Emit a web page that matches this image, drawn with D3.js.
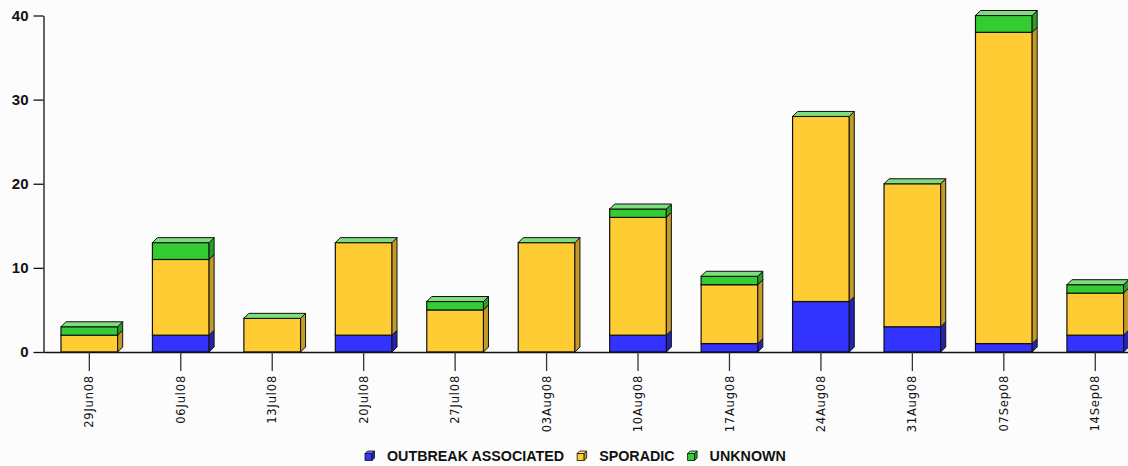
<!DOCTYPE html>
<html>
<head>
<meta charset="utf-8">
<script src="https://cdn.jsdelivr.net/npm/d3@7"></script>
<style>
  html, body { margin: 0; padding: 0; background: #fcfcfc; }
  svg { display: block; }
</style>
</head>
<body>
<svg id="chart" width="1128" height="466"></svg>
<script>
// Weekly case counts by type
const weeks = ["29Jun08", "06Jul08", "13Jul08", "20Jul08", "27Jul08", "03Aug08",
               "10Aug08", "17Aug08", "24Aug08", "31Aug08", "07Sep08", "14Sep08"];
const outbreak = [0, 2, 0, 2, 0, 0, 2, 1, 6, 3, 1, 2];
const sporadic = [2, 9, 4, 11, 5, 13, 14, 7, 22, 17, 37, 5];
const unknown  = [1, 2, 0, 0, 1, 0, 1, 1, 0, 0, 2, 1];
const seriesNames = ["OUTBREAK ASSOCIATED", "SPORADIC", "UNKNOWN"];
const yTicks = [0, 10, 20, 30, 40];

const front = ["#3333ff", "#ffcc33", "#33cc33"];
const side  = ["#2424b4", "#c49a26", "#24a024"];
const topFace = "#7ddc7d";
const legendTop = ["#6a6aff", "#ffe07a", "#7ddc7d"];

const svg = d3.select("#chart");
const W = 1128, H = 466;
const depth = 5;

const x = d3.scaleBand().domain(weeks).range([43.6, 1141]).paddingInner(0.38).paddingOuter(0.19);
const y = d3.scaleLinear().domain([0, 40]).range([352, 15.5]);

// stacked layers
const rows = weeks.map((w, i) => ({ week: w, o: outbreak[i], s: sporadic[i], u: unknown[i] }));
const stack = d3.stack().keys(["o", "s", "u"])(rows);

const bars = svg.append("g");
weeks.forEach((w, i) => {
  const g = bars.append("g");
  const x0 = x(w), bw = x.bandwidth(), x1 = x0 + bw;
  stack.forEach((layer, k) => {
    const [a, b] = layer[i];
    if (b - a <= 0) return;
    const yt = y(b), yb = y(a);
    // front face
    g.append("rect")
      .attr("x", x0).attr("y", yt).attr("width", bw).attr("height", yb - yt)
      .attr("fill", front[k]).attr("stroke", "#111").attr("stroke-width", 1.2);
    // right side face
    g.append("path")
      .attr("d", `M${x1},${yb}L${x1 + depth},${yb - depth}L${x1 + depth},${yt - depth}L${x1},${yt}Z`)
      .attr("fill", side[k]).attr("stroke", "#111").attr("stroke-width", 1);
  });
  const total = outbreak[i] + sporadic[i] + unknown[i];
  const yt = y(total);
  g.append("path")
    .attr("d", `M${x0},${yt}L${x0 + depth},${yt - depth}L${x1 + depth},${yt - depth}L${x1},${yt}Z`)
    .attr("fill", topFace).attr("stroke", "#111").attr("stroke-width", 1);
});

// Y axis
const yAxis = svg.append("g").attr("transform", "translate(43.5,0)")
  .call(d3.axisLeft(y).tickValues(yTicks).tickSize(10).tickSizeOuter(0).tickPadding(5));
yAxis.select(".domain").attr("stroke", "#111").attr("stroke-width", 1.3);
yAxis.selectAll(".tick line").attr("stroke", "#111").attr("stroke-width", 1.3);
yAxis.selectAll(".tick text")
  .attr("fill", "#111")
  .style("font-family", "'Liberation Sans', Arial, sans-serif")
  .style("font-weight", "bold").style("font-size", "15px");

// X axis
const xAxis = svg.append("g").attr("transform", "translate(0,352)")
  .call(d3.axisBottom(x).tickSize(19).tickSizeOuter(0).tickPadding(4));
xAxis.select(".domain").attr("d", `M43.5,0.5H${W}`).attr("stroke", "#111").attr("stroke-width", 1.3);
xAxis.selectAll(".tick line").attr("stroke", "#333").attr("stroke-width", 1.3);
xAxis.selectAll(".tick text")
  .attr("fill", "#111")
  .attr("transform", "rotate(-90)")
  .attr("x", -23).attr("y", 0).attr("dy", "0.35em")
  .attr("text-anchor", "end")
  .style("font-family", "'DejaVu Sans', sans-serif")
  .style("font-size", "11.5px")
  .style("letter-spacing", "0.8px");

// Legend
const legend = svg.append("g").attr("transform", "translate(365,456)");
let lx = 0;
seriesNames.forEach((name, k) => {
  const g = legend.append("g").attr("transform", `translate(${lx},0)`);
  const s = 7, d = 2.5;
  g.append("rect").attr("x", 0).attr("y", -s / 2 + 1).attr("width", s).attr("height", s)
    .attr("fill", front[k]).attr("stroke", "#111").attr("stroke-width", 0.8);
  g.append("path")
    .attr("d", `M0,${-s / 2 + 1}L${d},${-s / 2 + 1 - d}L${s + d},${-s / 2 + 1 - d}L${s},${-s / 2 + 1}Z`)
    .attr("fill", legendTop[k]).attr("stroke", "#111").attr("stroke-width", 0.8);
  g.append("path")
    .attr("d", `M${s},${-s / 2 + 1}L${s + d},${-s / 2 + 1 - d}L${s + d},${s / 2 + 1 - d}L${s},${s / 2 + 1}Z`)
    .attr("fill", side[k]).attr("stroke", "#111").attr("stroke-width", 0.8);
  const t = g.append("text").attr("x", 22).attr("y", 5)
    .attr("fill", "#111")
    .style("font-family", "'Liberation Sans', Arial, sans-serif")
    .style("font-weight", "bold").style("font-size", "14.3px")
    .text(name);
  lx += 22 + t.node().getComputedTextLength() + 13;
});
</script>
</body>
</html>
